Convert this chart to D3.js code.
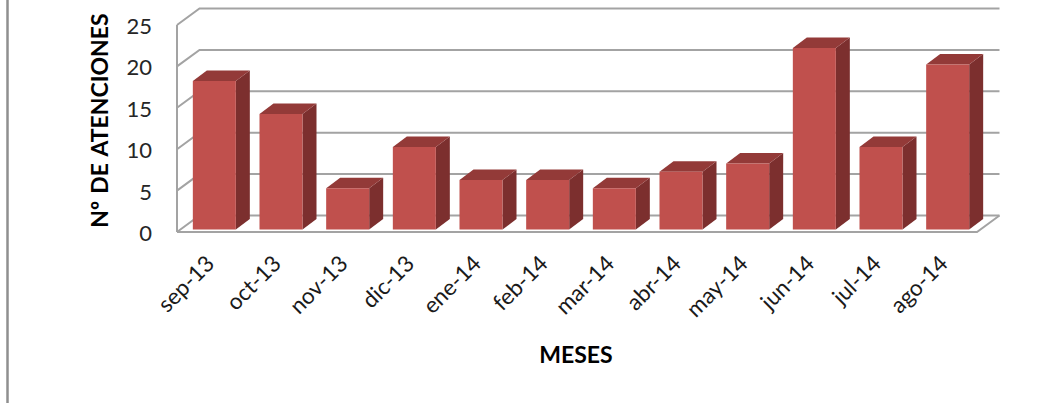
<!DOCTYPE html>
<html>
  <head>
    <meta charset="utf-8">
    <script src="https://cdn.jsdelivr.net/npm/d3@7"></script>
    <style type="text/css">
      html, body { margin: 0; padding: 0; background: #fff; overflow: hidden; }
      text { font-family: Lato, sans-serif; }
    </style>
  </head>
  <body>
    <script type="text/javascript">
      const months = ["sep-13", "oct-13", "nov-13", "dic-13", "ene-14", "feb-14",
                      "mar-14", "abr-14", "may-14", "jun-14", "jul-14", "ago-14"];
      const visits = [18, 14, 5, 10, 6, 6, 5, 7, 8, 22, 10, 20];
      const yTicks = [0, 5, 10, 15, 20, 25];

      const width = 1060, height = 403;
      const wallDx = 22.5, wallDy = -16.5;   // depth of the 3d box
      const barDx = 14, barDy = -10.5;       // depth of each column
      const gridColor = "#a3a3a3";

      const svg = d3.select("body").append("svg")
        .attr("width", width)
        .attr("height", height);

      // outer frame, only the left edge is visible
      svg.append("line")
        .attr("x1", 7.5).attr("x2", 7.5)
        .attr("y1", 0).attr("y2", height)
        .attr("stroke", "#8f8f8f")
        .attr("stroke-width", 2.5);

      const x = d3.scaleBand()
        .domain(months)
        .range([177, 977]);

      const bars = d3.scaleBand()
        .domain(months)
        .range([181, 981])
        .paddingInner(0.355)
        .paddingOuter(0.1775);

      const y = d3.scaleLinear().domain([0, 25]).range([232, 25]);
      const barY = d3.scaleLinear().domain([0, 25]).range([229.5, 23.25]);

      // walls: back gridlines plus the slanted part on the left side
      const grid = svg.append("g").attr("id", "grid")
        .attr("fill", "none")
        .attr("stroke", gridColor)
        .attr("stroke-width", 2);

      const [x0, x1] = x.range();

      grid.selectAll("path.level")
        .data(yTicks)
        .enter()
        .append("path")
        .attr("class", "level")
        .attr("d", (d) => {
          const p = d3.path();
          p.moveTo(x0, y(d));
          p.lineTo(x0 + wallDx, y(d) + wallDy);
          p.lineTo(x1 + wallDx, y(d) + wallDy);
          return p.toString();
        });

      // floor front and right edges
      const floor = d3.path();
      floor.moveTo(x0, y(0));
      floor.lineTo(x1, y(0));
      floor.lineTo(x1 + wallDx, y(0) + wallDy);
      grid.append("path").attr("d", floor.toString());

      grid.append("line")
        .attr("x1", x0).attr("x2", x0)
        .attr("y1", y(25)).attr("y2", y(0));

      // columns
      const column = svg.append("g").attr("id", "columns")
        .selectAll("g")
        .data(months)
        .enter()
        .append("g");

      const value = (m) => visits[months.indexOf(m)];

      column.append("path")
        .attr("fill", "#7c2f2e")
        .attr("d", (m) => {
          const r = bars(m) + bars.bandwidth();
          return `M${r},${barY(value(m))}l${barDx},${barDy}V${barY(0) + barDy}l${-barDx},${-barDy}Z`;
        });

      column.append("path")
        .attr("fill", "#933a38")
        .attr("d", (m) => {
          const l = bars(m), w = bars.bandwidth();
          return `M${l},${barY(value(m))}l${barDx},${barDy}h${w}l${-barDx},${-barDy}Z`;
        });

      column.append("rect")
        .attr("x", (m) => bars(m))
        .attr("y", (m) => barY(value(m)))
        .attr("width", bars.bandwidth())
        .attr("height", (m) => barY(0) - barY(value(m)))
        .attr("fill", "#c0504d");

      // axes
      const yAxis = svg.append("g")
        .attr("transform", "translate(177,1.5)")
        .call(d3.axisLeft(y).tickValues(yTicks).tickSize(0).tickPadding(25));
      yAxis.select(".domain").remove();
      yAxis.selectAll("text")
        .attr("fill", "#262626")
        .style("font-size", "22px");

      const xAxis = svg.append("g")
        .attr("transform", `translate(0,${y(0)})`)
        .call(d3.axisBottom(x).tickSize(0).tickFormat((d) => d));
      xAxis.select(".domain").remove();
      xAxis.selectAll("text")
        .attr("fill", "#1a1a1a")
        .attr("text-anchor", "end")
        .attr("dy", "0")
        .attr("y", 0)
        .attr("transform", "translate(5.5,33) rotate(-45)")
        .style("font-size", "22.5px");

      // axis titles
      svg.append("text")
        .attr("x", 576)
        .attr("y", 363)
        .attr("text-anchor", "middle")
        .attr("font-weight", "bold")
        .attr("fill", "#000")
        .style("font-size", "23px")
        .text("MESES");

      svg.append("text")
        .attr("transform", "translate(108,120.5) rotate(-90)")
        .attr("text-anchor", "middle")
        .attr("font-weight", "bold")
        .attr("fill", "#000")
        .style("font-size", "23px")
        .style("word-spacing", "1.5px")
        .text("Nº DE ATENCIONES");
    </script>
  </body>
</html>
